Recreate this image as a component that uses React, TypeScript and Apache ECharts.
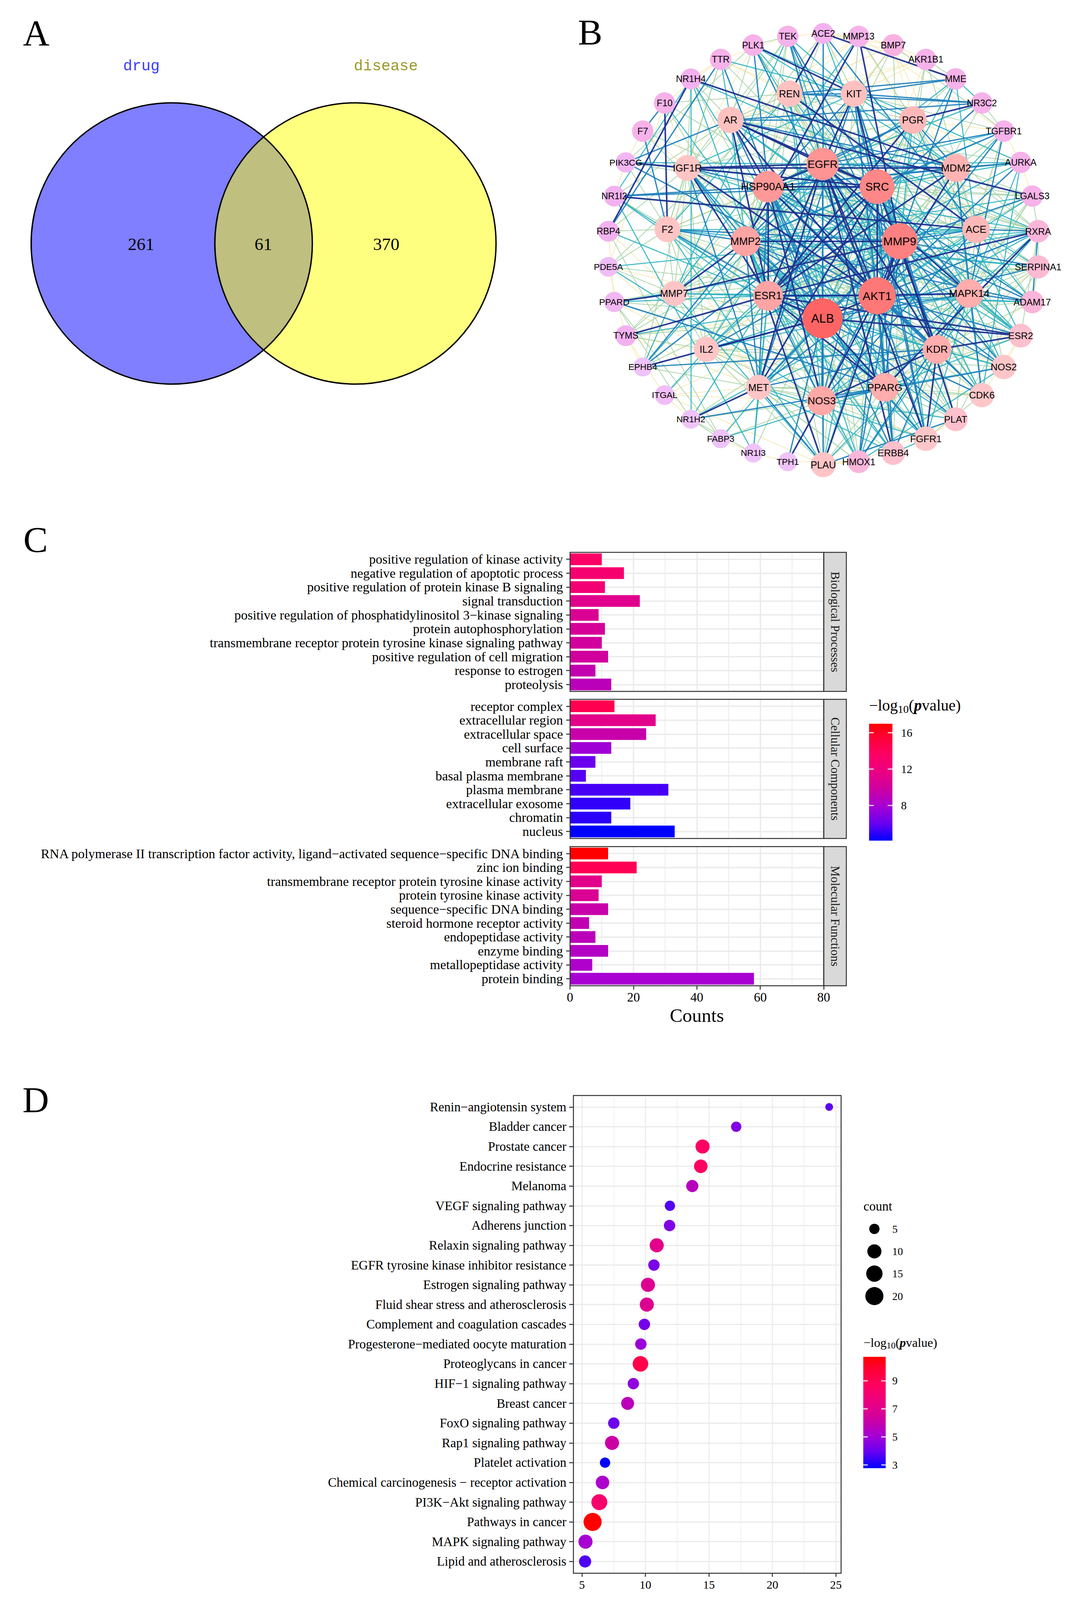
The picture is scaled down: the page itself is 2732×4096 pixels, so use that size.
import React, { useEffect, useRef } from 'react';
import * as echarts from 'echarts';

const W = 2732;
const H = 4096;
const SERIF = "'Liberation Serif', 'Times New Roman', Times, serif";
const SANS = "'Liberation Sans', Arial, Helvetica, sans-serif";
const MONO = "'Liberation Mono', 'Courier New', monospace";

// ---------------- Panel A : Venn ----------------
const VENN_SETS = ['drug', 'disease'];
const VENN_COUNTS = [261, 61, 370]; // drug only, shared, disease only

// ---------------- Panel B : PPI network ----------------
const INNER_NODES = ['EGFR', 'SRC', 'MMP9', 'AKT1', 'ALB', 'ESR1', 'MMP2', 'HSP90AA1'];
const INNER_DEGREE = [35, 39, 41, 43, 48, 31, 31, 34];
const MIDDLE_NODES = ['REN', 'KIT', 'PGR', 'MDM2', 'ACE', 'MAPK14', 'KDR', 'PPARG', 'NOS3', 'MET', 'IL2', 'MMP7', 'F2', 'IGF1R', 'AR'];
const MIDDLE_DEGREE = [25, 25, 27, 28, 27, 29, 29, 29, 30, 23, 23, 23, 24, 24, 25];
const OUTER_NODES = ['ACE2', 'MMP13', 'BMP7', 'AKR1B1', 'MME', 'NR3C2', 'TGFBR1', 'AURKA', 'LGALS3', 'RXRA', 'SERPINA1', 'ADAM17', 'ESR2', 'NOS2', 'CDK6', 'PLAT', 'FGFR1', 'ERBB4', 'HMOX1', 'PLAU', 'TPH1', 'NR1I3', 'FABP3', 'NR1H2', 'ITGAL', 'EPHB4', 'TYMS', 'PPARD', 'PDE5A', 'RBP4', 'NR1I2', 'PIK3CG', 'F7', 'F10', 'NR1H4', 'TTR', 'PLK1', 'TEK'];
const OUTER_DEGREE = [16, 17, 18, 17, 17, 17, 17, 17, 17, 19, 20, 19, 21, 22, 22, 21, 22, 21, 19, 23, 13, 13, 13, 13, 14, 13, 16, 15, 14, 16, 16, 15, 17, 17, 16, 17, 17, 17];
// adjacency: "SOURCE: TARGET weight TARGET weight ..." (weight 1 = weak .. 5 = strong)
const EDGE_LISTS = [
  'ALB: AKT1 5 EGFR 4 SRC 3 MMP9 4 ESR1 5 MMP2 3 HSP90AA1 4 PPARG 5 NOS3 4 IL2 5 MET 3 KDR 3 MAPK14 4 ACE 2 MDM2 2 PGR 2 REN 3 AR 4 F2 4 IGF1R 3 MMP7 2 PLAU 3 HMOX1 2 ERBB4 1 FGFR1 2 PLAT 2 CDK6 1 NOS2 3 ESR2 5 ADAM17 2 SERPINA1 4 RXRA 3 LGALS3 2 TTR 4 RBP4 3 EPHB4 5 TYMS 2 PPARD 2 FABP3 3 NR1I2 2 F7 2 F10 3 ACE2 4 MME 3 AKR1B1 1 TPH1 4 NR1H4 2 PDE5A 1',
  'AKT1: EGFR 5 SRC 5 MMP9 5 ESR1 5 MMP2 4 HSP90AA1 5 MAPK14 5 KDR 4 PPARG 4 NOS3 5 MET 4 IL2 3 MDM2 5 ACE 3 PGR 3 AR 5 IGF1R 5 KIT 4 REN 2 F2 2 MMP7 3 PLAU 3 HMOX1 4 ERBB4 4 FGFR1 4 CDK6 4 NOS2 4 ESR2 4 PLAT 2 RXRA 4 AURKA 4 TGFBR1 4 LGALS3 3 PIK3CG 4 PLK1 4 TEK 3 NR1H2 2 PDE5A 2 ITGAL 1 ADAM17 3 SERPINA1 2 TYMS 3 NR3C2 2',
  'EGFR: SRC 5 MMP9 4 ESR1 5 MMP2 4 HSP90AA1 5 MAPK14 5 KDR 5 PPARG 3 NOS3 3 MET 5 IL2 3 MDM2 4 ACE 2 PGR 4 AR 5 IGF1R 5 KIT 5 REN 1 F2 2 MMP7 3 PLAU 4 HMOX1 2 ERBB4 5 FGFR1 5 CDK6 3 NOS2 2 ESR2 3 PLAT 3 ADAM17 4 TGFBR1 4 AURKA 3 PIK3CG 3 LGALS3 2 SERPINA1 2 EPHB4 3 TEK 4 PLK1 3 RXRA 2 NR3C2 2',
  'SRC: MMP9 4 ESR1 5 MMP2 3 HSP90AA1 5 MAPK14 4 KDR 5 PPARG 3 NOS3 4 MET 5 IL2 3 MDM2 3 AR 5 IGF1R 5 KIT 5 PGR 3 F2 2 MMP7 2 PLAU 3 HMOX1 2 ERBB4 4 FGFR1 4 CDK6 3 NOS2 3 ESR2 3 PLAT 2 ADAM17 3 PIK3CG 4 EPHB4 4 TEK 4 LGALS3 2 AURKA 3 TGFBR1 3 PLK1 3 RXRA 2 ITGAL 2 NR1I2 4 NR1I3 2 TYMS 2',
  'MMP9: ESR1 3 MMP2 5 HSP90AA1 3 MAPK14 4 KDR 4 PPARG 4 NOS3 4 MET 4 IL2 4 MDM2 2 ACE 4 PGR 2 AR 3 IGF1R 3 KIT 3 REN 3 F2 4 MMP7 5 PLAU 5 HMOX1 4 ERBB4 2 FGFR1 3 NOS2 4 ESR2 2 PLAT 5 ADAM17 4 SERPINA1 4 RXRA 3 LGALS3 4 TGFBR1 3 MMP13 5 BMP7 2 ACE2 3 MME 4 AKR1B1 2 CDK6 2 F10 2 F7 2 TTR 2 TYMS 1 PPARD 2 EPHB4 2',
  'ESR1: MMP2 3 HSP90AA1 5 MAPK14 4 KDR 3 PPARG 5 NOS3 4 MET 3 IL2 3 MDM2 5 ACE 2 PGR 5 AR 5 IGF1R 5 KIT 2 REN 2 F2 2 MMP7 3 PLAU 2 HMOX1 2 ERBB4 3 FGFR1 3 CDK6 4 NOS2 2 ESR2 5 RXRA 5 NR3C2 4 NR1H4 3 NR1I2 3 NR1I3 3 NR1H2 3 PPARD 3 SERPINA1 2 LGALS3 2 TYMS 5 AURKA 3 BMP7 2',
  'MMP2: HSP90AA1 3 MAPK14 2 KDR 4 PPARG 3 NOS3 3 MET 4 IL2 2 MDM2 2 ACE 3 PGR 2 AR 3 IGF1R 4 KIT 2 REN 2 F2 4 MMP7 5 PLAU 5 HMOX1 3 ERBB4 2 FGFR1 4 NOS2 2 ESR2 2 PLAT 4 ADAM17 4 SERPINA1 3 TGFBR1 4 MMP13 5 BMP7 2 ACE2 2 MME 3 LGALS3 3 TEK 2 F10 2 EPHB4 4',
  'HSP90AA1: MAPK14 4 KDR 4 PPARG 3 NOS3 5 MET 4 IL2 2 MDM2 4 ACE 2 PGR 4 AR 5 IGF1R 4 KIT 4 REN 1 F2 2 MMP7 1 PLAU 2 HMOX1 3 ERBB4 4 FGFR1 3 CDK6 4 NOS2 4 ESR2 3 PLAT 2 RXRA 3 AURKA 4 PLK1 4 TGFBR1 3 PIK3CG 2 NR3C2 3 NR1I2 4 TEK 2 LGALS3 2 TYMS 2',
  'REN: KIT 4 MME 4 NR3C2 4 ACE 5 ACE2 5 AR 2 PGR 2 MDM2 1 F2 3 NOS3 3 PLAT 2 SERPINA1 2 AKR1B1 1 BMP7 1 MMP13 1 TTR 1 PDE5A 2 F10 2 MAPK14 2 KDR 2',
  'KIT: NR3C2 4 MME 4 PLK1 5 TEK 3 PGR 3 AR 2 MDM2 3 KDR 4 MET 4 IGF1R 3 FGFR1 4 ERBB4 3 MAPK14 3 PPARG 2 IL2 2 ACE2 2 TGFBR1 2 BMP7 1 AKR1B1 1 TTR 3',
  'PGR: AR 4 NR3C2 5 MDM2 4 ESR2 3 PPARG 3 RXRA 2 MMP13 1 BMP7 1 AKR1B1 2 ACE 2 MAPK14 2 NOS3 2 TGFBR1 1 AURKA 1 MME 2 IGF1R 2 F2 1',
  'MDM2: ACE 2 MAPK14 3 AURKA 4 PLK1 3 CDK6 4 PPARG 2 IGF1R 5 AR 4 KIT 2 NR1H4 5 LGALS3 2 RXRA 2 TGFBR1 2 KDR 2 MET 2 IL2 1 TTR 1',
  'ACE: ACE2 4 NOS3 4 MME 3 NR1I2 5 RXRA 4 MAPK14 2 KDR 2 PPARG 2 F2 3 SERPINA1 3 ADAM17 3 NOS2 2 PLAT 2 LGALS3 1 AKR1B1 2 BMP7 1 TGFBR1 1 MMP13 1 PDE5A 3',
  'MAPK14: KDR 3 PPARG 3 NOS3 3 MET 3 IL2 3 ESR2 3 NOS2 3 HMOX1 4 CDK6 3 ADAM17 4 SERPINA1 2 RXRA 3 LGALS3 2 AURKA 3 TGFBR1 4 PLAT 2 FGFR1 3 ERBB4 2 TYMS 1',
  'KDR: PPARG 2 NOS3 5 MET 4 IL2 2 FGFR1 5 ERBB4 4 TEK 4 PLAU 3 PLAT 2 HMOX1 3 NOS2 3 CDK6 2 ESR2 5 ADAM17 2 EPHB4 4 RXRA 3 TGFBR1 2 LGALS3 2 SERPINA1 1',
  'PPARG: NOS3 4 NOS2 3 RXRA 5 ESR2 3 HMOX1 3 FGFR1 2 ERBB4 2 PLAT 2 PLAU 2 CDK6 2 NR1H2 4 NR1H4 3 NR1I2 3 PPARD 4 FABP3 3 IL2 2 MET 2 TYMS 1 ADAM17 1 LGALS3 2',
  'NOS3: NOS2 4 HMOX1 3 PLAU 2 PLAT 3 ERBB4 2 FGFR1 2 MET 2 IL2 2 TPH1 5 NR1H2 2 FABP3 2 ITGAL 1 CDK6 1 ESR2 2 ACE2 2 PDE5A 3 F2 2 SERPINA1 2',
  'MET: IL2 2 NR1H2 5 NR1I3 3 FABP3 1 ERBB4 3 FGFR1 3 PLAU 4 HMOX1 2 ITGAL 1 EPHB4 2 TYMS 1 PLAT 2 CDK6 2 IGF1R 4 F2 1',
  'IL2: ITGAL 3 EPHB4 2 TYMS 2 PPARD 1 PDE5A 1 MMP7 2 F2 2 IGF1R 2 HMOX1 2 PLAU 2 NOS2 2 CDK6 1 FGFR1 1 ESR2 1',
  'MMP7: PPARD 5 PDE5A 2 TYMS 2 F2 2 IGF1R 2 PLAU 3 MMP13 3 ADAM17 3 SERPINA1 2 PLAT 2 EPHB4 1 RBP4 1',
  'F2: F10 5 F7 4 RBP4 2 PLAU 3 PLAT 3 SERPINA1 3 PIK3CG 2 TTR 2 PDE5A 2 IGF1R 2 AR 1 ACE2 2 NOS2 1',
  'IGF1R: PIK3CG 5 NR1H4 2 TTR 2 F7 1 F10 1 AR 2 ERBB4 3 FGFR1 3 RBP4 2 EPHB4 2 TEK 2 PLK1 1 CDK6 2',
  'AR: NR3C2 4 TTR 3 PLK1 2 TEK 2 NR1H4 2 NR1I2 2 RXRA 2 ESR2 3 AURKA 2 PIK3CG 4 BMP7 1 MMP13 1 AKR1B1 1 LGALS3 5',
  'ACE2: MME 5 TEK 1 BMP7 1 MMP13 1 AKR1B1 1',
  'MMP13: BMP7 1 ADAM17 2 TGFBR1 1 PLAU 2',
  'BMP7: AKR1B1 1 TGFBR1 2',
  'MME: AKR1B1 2 NR3C2 3',
  'NR3C2: TGFBR1 2',
  'TGFBR1: AURKA 1',
  'AURKA: PLK1 3 CDK6 3 LGALS3 1',
  'LGALS3: RXRA 2',
  'RXRA: SERPINA1 2 ADAM17 4 NR1H2 3 NR1I2 2 PPARD 3 NR1H4 3 ESR2 2',
  'SERPINA1: ADAM17 2 PLAT 2 PLAU 2',
  'ESR2: NOS2 1 CDK6 1',
  'NOS2: HMOX1 3',
  'CDK6: PLK1 2 FGFR1 2',
  'PLAT: PLAU 4 HMOX1 1 FGFR1 1',
  'FGFR1: ERBB4 3',
  'ERBB4: TEK 2',
  'HMOX1: PLAU 1 TPH1 1',
  'PLAU: ITGAL 1',
  'TPH1: NR1I3 1',
  'NR1I3: NR1I2 3 NR1H2 2 FABP3 1',
  'FABP3: NR1H2 2 PPARD 2 RBP4 2',
  'NR1H2: NR1H4 3 PPARD 2 ITGAL 1',
  'ITGAL: TYMS 1',
  'EPHB4: TYMS 1 TEK 3',
  'TYMS: PDE5A 1',
  'PPARD: RBP4 1',
  'PDE5A: F10 1',
  'RBP4: TTR 4 NR1H4 5',
  'NR1I2: NR1H4 3 PIK3CG 1',
  'PIK3CG: F7 1 PLK1 2',
  'F7: F10 4',
  'F10: TTR 1',
  'NR1H4: TTR 1',
  'TTR: TEK 1',
  'PLK1: TEK 2',
];

// ---------------- Panel C : GO bars ----------------
const GO_FACETS = ['Biological Processes', 'Cellular Components', 'Molecular Functions'];
const BP_TERMS = ['positive regulation of kinase activity', 'negative regulation of apoptotic process', 'positive regulation of protein kinase B signaling', 'signal transduction', 'positive regulation of phosphatidylinositol 3−kinase signaling', 'protein autophosphorylation', 'transmembrane receptor protein tyrosine kinase signaling pathway', 'positive regulation of cell migration', 'response to estrogen', 'proteolysis'];
const BP_COUNTS = [10, 17, 11, 22, 9, 11, 10, 12, 8, 13];
const BP_LOGP = [13.5, 12.9, 12.6, 11.0, 10.6, 10.3, 10.0, 9.9, 9.3, 8.9];
const CC_TERMS = ['receptor complex', 'extracellular region', 'extracellular space', 'cell surface', 'membrane raft', 'basal plasma membrane', 'plasma membrane', 'extracellular exosome', 'chromatin', 'nucleus'];
const CC_COUNTS = [14, 27, 24, 13, 8, 5, 31, 19, 13, 33];
const CC_LOGP = [14.4, 11.2, 9.5, 7.7, 6.1, 5.7, 5.4, 5.0, 4.9, 4.13];
const MF_TERMS = ['RNA polymerase II transcription factor activity, ligand−activated sequence−specific DNA binding', 'zinc ion binding', 'transmembrane receptor protein tyrosine kinase activity', 'protein tyrosine kinase activity', 'sequence−specific DNA binding', 'steroid hormone receptor activity', 'endopeptidase activity', 'enzyme binding', 'metallopeptidase activity', 'protein binding'];
const MF_COUNTS = [12, 21, 10, 9, 12, 6, 8, 12, 7, 58];
const MF_LOGP = [16.99, 14.2, 11.2, 10.6, 9.5, 9.2, 8.9, 8.5, 8.3, 8.0];
const GO_COLOR_BREAKS = [8, 12, 16];

// ---------------- Panel D : KEGG bubbles ----------------
const KEGG_TERMS = ['Renin−angiotensin system', 'Bladder cancer', 'Prostate cancer', 'Endocrine resistance', 'Melanoma', 'VEGF signaling pathway', 'Adherens junction', 'Relaxin signaling pathway', 'EGFR tyrosine kinase inhibitor resistance', 'Estrogen signaling pathway', 'Fluid shear stress and atherosclerosis', 'Complement and coagulation cascades', 'Progesterone−mediated oocyte maturation', 'Proteoglycans in cancer', 'HIF−1 signaling pathway', 'Breast cancer', 'FoxO signaling pathway', 'Rap1 signaling pathway', 'Platelet activation', 'Chemical carcinogenesis − receptor activation', 'PI3K−Akt signaling pathway', 'Pathways in cancer', 'MAPK signaling pathway', 'Lipid and atherosclerosis'];
const KEGG_X = [24.47, 17.15, 14.5, 14.36, 13.69, 11.93, 11.9, 10.89, 10.67, 10.2, 10.11, 9.92, 9.64, 9.61, 9.05, 8.6, 7.51, 7.37, 6.82, 6.62, 6.37, 5.84, 5.28, 5.25];
const KEGG_COUNT = [4, 5, 10, 9, 7, 5, 6, 10, 6, 10, 10, 6, 6, 13, 6, 8, 6, 10, 5, 9, 14, 20, 10, 7];
const KEGG_LOGP = [3.8, 4.4, 8.6, 8.65, 5.6, 3.7, 4.4, 7.1, 4.3, 6.9, 6.9, 4.2, 4.9, 9.3, 4.7, 5.7, 4.0, 6.2, 2.77, 5.3, 8.3, 10.71, 5.15, 3.65];
const KEGG_X_TICKS = [5, 10, 15, 20, 25];
const KEGG_X_MINOR = [7.5, 12.5, 17.5, 22.5];
const KEGG_SIZE_BREAKS = [5, 10, 15, 20];
const KEGG_COLOR_BREAKS = [3, 5, 7, 9];

// ---------------- helpers ----------------
type Stop = [number, number[]];
const FILL_STOPS: Stop[] = [
  [0, [0, 0, 255]], [0.15, [106, 0, 240]], [0.3, [168, 0, 210]], [0.45, [208, 0, 158]],
  [0.6, [236, 0, 128]], [0.75, [255, 0, 96]], [0.9, [255, 0, 48]], [1, [255, 0, 0]],
];
const NODE_STOPS: Stop[] = [
  [13, [239, 195, 249]], [16, [243, 177, 239]], [18, [248, 178, 226]], [20, [252, 186, 210]],
  [22, [254, 198, 200]], [24, [255, 196, 196]], [27, [255, 184, 184]], [30, [255, 168, 168]],
  [35, [255, 148, 148]], [41, [255, 128, 128]], [48, [255, 100, 100]],
];
const EDGE_COLORS = ['#f5e3a0', '#a9d3a6', '#2fb4c2', '#1d80bd', '#1c3390'];
const EDGE_WIDTHS = [1.5, 2.0, 2.6, 3.2, 4.0];

function interp(stops: Stop[], v: number): string {
  if (v <= stops[0][0]) return rgb(stops[0][1]);
  for (let i = 1; i < stops.length; i++) {
    if (v <= stops[i][0]) {
      const [a, ca] = stops[i - 1];
      const [b, cb] = stops[i];
      const t = (v - a) / (b - a);
      return rgb(ca.map((c, k) => c + (cb[k] - c) * t));
    }
  }
  return rgb(stops[stops.length - 1][1]);
}
function rgb(c: number[]): string {
  return `rgb(${c.map((x) => Math.round(x)).join(',')})`;
}
function gradientFill(lo: number, hi: number) {
  const stops = FILL_STOPS.map(([t, c]) => ({ offset: 1 - t, color: rgb(c) })).reverse();
  return new echarts.graphic.LinearGradient(0, 0, 0, 1, stops);
}

let measureCtx: CanvasRenderingContext2D | null = null;
function measure(text: string, font: string): number {
  if (!measureCtx) measureCtx = document.createElement('canvas').getContext('2d');
  measureCtx!.font = font;
  return measureCtx!.measureText(text).width;
}
const K_MID = 0.34; // central baseline offset of Liberation Serif

function baseText(text: string, x: number, baseline: number, fs: number, extra: any = {}) {
  return {
    type: 'text', x, y: baseline - K_MID * fs, z: 20,
    style: { text, fontSize: fs, fontFamily: SERIF, fill: '#000', align: 'left', verticalAlign: 'middle', ...extra },
  };
}

function logTitle(x: number, baseline: number, fs: number, sub: number, drop: number) {
  const parts = [
    { t: '−log', fs, w: 'normal', s: 'normal', dy: 0 },
    { t: '10', fs: sub, w: 'normal', s: 'normal', dy: drop },
    { t: '(', fs, w: 'normal', s: 'normal', dy: 0 },
    { t: 'p', fs, w: 'bold', s: 'italic', dy: 0 },
    { t: 'value)', fs, w: 'normal', s: 'normal', dy: 0 },
  ];
  let cx = x;
  const els: any[] = [];
  parts.forEach((p) => {
    els.push(baseText(p.t, cx, baseline + p.dy, p.fs, { fontWeight: p.w, fontStyle: p.s }));
    cx += measure(p.t, `${p.s} ${p.w} ${p.fs}px ${SERIF}`);
  });
  return els;
}

function colorBar(x: number, top: number, w: number, h: number, lo: number, hi: number, breaks: number[], labelX: number, fs: number) {
  const els: any[] = [];
  els.push({ type: 'rect', z: 20, shape: { x, y: top, width: w, height: h }, style: { fill: gradientFill(lo, hi) } });
  const tl = w * 0.2;
  breaks.forEach((b) => {
    const y = top + h - ((b - lo) / (hi - lo)) * h;
    els.push({ type: 'line', z: 21, shape: { x1: x, y1: y, x2: x + tl, y2: y }, style: { stroke: '#fff', lineWidth: 2.5 } });
    els.push({ type: 'line', z: 21, shape: { x1: x + w - tl, y1: y, x2: x + w, y2: y }, style: { stroke: '#fff', lineWidth: 2.5 } });
    els.push({
      type: 'text', z: 20, x: labelX, y,
      style: { text: String(b), fontSize: fs, fontFamily: SERIF, fill: '#000', align: 'left', verticalAlign: 'middle' },
    });
  });
  return els;
}

function buildOption() {
  const graphic: any[] = [];

  // panel letters
  [['A', 92.6, 84], ['B', 1511, 82], ['C', 91, 1381], ['D', 91.4, 2815]].forEach(([t, x, y]) => {
    graphic.push({
      type: 'text', x, y, z: 20,
      style: { text: t, fontSize: 94, fontFamily: SERIF, fill: '#000', align: 'center', verticalAlign: 'middle' },
    });
  });

  // ---- Panel A: Venn ----
  const vennY = 623.3;
  const vennR = 360;
  const vennX = [439.7, 910.1];
  graphic.push({ type: 'circle', z: 5, shape: { cx: vennX[0], cy: vennY, r: vennR }, style: { fill: 'rgba(0,0,255,0.5)' } });
  graphic.push({ type: 'circle', z: 6, shape: { cx: vennX[1], cy: vennY, r: vennR }, style: { fill: 'rgba(255,255,0,0.5)' } });
  vennX.forEach((cx) => {
    graphic.push({ type: 'circle', z: 7, shape: { cx, cy: vennY, r: vennR }, style: { fill: 'none', stroke: '#000', lineWidth: 3.5 } });
  });
  const setColors = ['#3c3cff', '#9a9a26'];
  const setLabelX = [362, 988];
  VENN_SETS.forEach((s, i) => {
    graphic.push({
      type: 'text', x: setLabelX[i], y: 170, z: 20,
      style: { text: s, fontSize: 39, fontFamily: MONO, fill: setColors[i], align: 'center', verticalAlign: 'middle' },
    });
  });
  const countX = [361.3, 674.3, 989];
  VENN_COUNTS.forEach((c, i) => {
    graphic.push({
      type: 'text', x: countX[i], y: 625, z: 20,
      style: { text: String(c), fontSize: 45, fontFamily: SERIF, fill: '#000', align: 'center', verticalAlign: 'middle' },
    });
  });

  // ---- Panel B: network ----
  const ring = (names: string[], degs: number[], cx: number, cy: number, r: number, start: number) => {
    const step = 360 / names.length;
    return names.map((n, i) => {
      const a = ((start + i * step) * Math.PI) / 180;
      return { name: n, deg: degs[i], x: cx + r * Math.cos(a), y: cy + r * Math.sin(a) };
    });
  };
  const nodes = [
    ...ring(OUTER_NODES, OUTER_DEGREE, 2107.9, 637.6, 552, -90),
    ...ring(MIDDLE_NODES, MIDDLE_DEGREE, 2103.9, 628.6, 397.3, -102),
    ...ring(INNER_NODES, INNER_DEGREE, 2106.3, 617.5, 197.5, -90),
  ];
  const nodeSet = new Set(nodes.map((n) => n.name));
  const seen = new Set<string>();
  const links: { source: string; target: string; w: number }[] = [];
  EDGE_LISTS.forEach((line) => {
    const [srcRaw, rest] = line.split(':');
    const src = srcRaw.trim();
    const toks = rest.trim().split(/\s+/);
    for (let k = 0; k + 1 < toks.length; k += 2) {
      const tgt = toks[k];
      const w = Number(toks[k + 1]);
      if (tgt === src || !nodeSet.has(tgt) || !nodeSet.has(src)) continue;
      const key = [src, tgt].sort().join('|');
      if (seen.has(key)) continue;
      seen.add(key);
      links.push({ source: src, target: tgt, w });
    }
  });
  links.sort((a, b) => a.w - b.w);
  const xs = nodes.map((n) => n.x);
  const ys = nodes.map((n) => n.y);
  const bx = Math.min(...xs);
  const by = Math.min(...ys);
  const bw = Math.max(...xs) - bx;
  const bh = Math.max(...ys) - by;
  const nodeSize = (d: number) => 44 + (d - 10) * 1.55;
  const nodeFont = (d: number) => 22.5 + (d - 13) * 0.24;

  // ---- Panel C ----
  const goTerms = [BP_TERMS, CC_TERMS, MF_TERMS];
  const goCounts = [BP_COUNTS, CC_COUNTS, MF_COUNTS];
  const goLogp = [BP_LOGP, CC_LOGP, MF_LOGP];
  const allGo = ([] as number[]).concat(BP_LOGP, CC_LOGP, MF_LOGP);
  const goLo = Math.min(...allGo);
  const goHi = Math.max(...allGo);
  const goColor = (v: number) => interp(FILL_STOPS, (v - goLo) / (goHi - goLo));
  const cLeft = 1459.6;
  const cRight = 2109.1;
  const stripRight = 2167;
  const cTops = [1413.9, 1790.2, 2167.2];
  const cBottoms = [1770.1, 2146.4, 2523.4];

  cTops.forEach((t, i) => {
    const h = cBottoms[i] - t;
    graphic.push({ type: 'rect', z: 30, shape: { x: cLeft, y: t, width: cRight - cLeft, height: h }, style: { fill: 'none', stroke: '#333', lineWidth: 2.5 } });
    graphic.push({ type: 'rect', z: 29, shape: { x: cRight, y: t, width: stripRight - cRight, height: h }, style: { fill: '#d9d9d9', stroke: '#333', lineWidth: 2.5 } });
    graphic.push({
      type: 'text', z: 31, x: (cRight + stripRight) / 2, y: t + h / 2, rotation: -Math.PI / 2,
      style: { text: GO_FACETS[i], fontSize: 31, fontFamily: SERIF, fill: '#1a1a1a', align: 'center', verticalAlign: 'middle' },
    });
  });
  graphic.push(...logTitle(2225.2, 1819.3, 40, 28, 6));
  graphic.push(...colorBar(2225.2, 1852.7, 59.8, 299.4, goLo, goHi, GO_COLOR_BREAKS, 2306.9, 29));

  // ---- Panel D ----
  const kLo = Math.min(...KEGG_LOGP);
  const kHi = Math.max(...KEGG_LOGP);
  const kColor = (v: number) => interp(FILL_STOPS, (v - kLo) / (kHi - kLo));
  const cMin = Math.min(...KEGG_COUNT);
  const cMax = Math.max(...KEGG_COUNT);
  const kSize = (c: number) => 19.9 + 26.4 * Math.sqrt(Math.max(0, c - cMin) / (cMax - cMin));
  const dLeft = 1468.2;
  const dRight = 2153.6;
  const dTop = 2804.6;
  const dBottom = 4027.6;
  const dGridTop = 2808.6;
  const dGridBottom = 4022.6;
  graphic.push({ type: 'rect', z: 30, shape: { x: dLeft, y: dTop, width: dRight - dLeft, height: dBottom - dTop }, style: { fill: 'none', stroke: '#333', lineWidth: 2.5 } });
  graphic.push(baseText('count', 2211, 3099, 33));
  const sizeY = [3146, 3203.5, 3260.5, 3318];
  KEGG_SIZE_BREAKS.forEach((c, i) => {
    graphic.push({ type: 'circle', z: 20, shape: { cx: 2238.8, cy: sizeY[i], r: kSize(c) / 2 }, style: { fill: '#000' } });
    graphic.push({
      type: 'text', z: 20, x: 2284.6, y: sizeY[i],
      style: { text: String(c), fontSize: 27.5, fontFamily: SERIF, fill: '#000', align: 'left', verticalAlign: 'middle' },
    });
  });
  graphic.push(...logTitle(2211, 3447.7, 32, 23, 5));
  graphic.push(...colorBar(2210.4, 3473.6, 57.4, 284.9, kLo, kHi, KEGG_COLOR_BREAKS, 2284.6, 27.5));

  const grids: any[] = cTops.map((t, i) => ({
    left: cLeft, top: t, width: cRight - cLeft, height: cBottoms[i] - t, containLabel: false, outerBoundsMode: 'none',
  }));
  grids.push({ left: dLeft, top: dGridTop, width: dRight - dLeft, height: dGridBottom - dGridTop, containLabel: false, outerBoundsMode: 'none' });

  const gridLine = '#ebebeb';
  const xAxes: any[] = [0, 1, 2].map((i) => ({
    type: 'value', gridIndex: i, min: 0, max: 80, interval: 20,
    axisLine: { show: false },
    axisTick: { show: i === 2, length: 10, lineStyle: { color: '#333', width: 2.5 } },
    axisLabel: { show: i === 2, fontSize: 33, fontFamily: SERIF, color: '#000', margin: 13 },
    splitLine: { show: true, lineStyle: { color: gridLine, width: 3.5 } },
    minorTick: { show: false, splitNumber: 2 },
    minorSplitLine: { show: true, lineStyle: { color: gridLine, width: 2 } },
    name: i === 2 ? 'Counts' : '',
    nameLocation: 'middle', nameGap: 52,
    nameTextStyle: { fontSize: 49, fontFamily: SERIF, color: '#000' },
  }));
  xAxes.push({
    type: 'value', gridIndex: 3, min: 4.33, max: 25.41, offset: 5,
    axisLine: { show: false },
    axisTick: { show: true, length: 9, lineStyle: { color: '#333', width: 2.5 }, customValues: KEGG_X_TICKS },
    axisLabel: { fontSize: 30, fontFamily: SERIF, color: '#000', margin: 14, customValues: KEGG_X_TICKS },
    splitLine: { show: false },
  });
  const yAxes: any[] = [0, 1, 2].map((i) => ({
    type: 'category', gridIndex: i, data: goTerms[i], inverse: true,
    axisLine: { show: false },
    axisTick: { show: true, alignWithLabel: true, length: 10, lineStyle: { color: '#333', width: 2.5 } },
    axisLabel: { interval: 0, fontSize: 34, fontFamily: SERIF, color: '#000', margin: 18 },
    splitLine: { show: false },
  }));
  yAxes.push({
    type: 'category', gridIndex: 3, data: KEGG_TERMS, inverse: true,
    axisLine: { show: false },
    axisTick: { show: true, alignWithLabel: true, length: 11, lineStyle: { color: '#333', width: 2.5 } },
    axisLabel: { interval: 0, fontSize: 33, fontFamily: SERIF, color: '#000', margin: 18 },
    splitLine: { show: false },
  });

  const series: any[] = [];
  [0, 1, 2].forEach((i) => {
    series.push({
      type: 'bar', xAxisIndex: i, yAxisIndex: i, barWidth: 30, z: 3, silent: true,
      data: goCounts[i].map((c, j) => ({ value: c, itemStyle: { color: goColor(goLogp[i][j]) } })),
      markLine: {
        silent: true, symbol: ['none', 'none'], z: 1, animation: false,
        label: { show: false },
        lineStyle: { color: gridLine, width: 3.5, type: 'solid' },
        emphasis: { disabled: true },
        data: goTerms[i].map((_, j) => ({ yAxis: j })),
      },
    });
  });
  const dLines: any[] = KEGG_TERMS.map((_, j) => ({ yAxis: j, lineStyle: { color: gridLine, width: 3.2, type: 'solid' } }));
  KEGG_X_TICKS.forEach((v) => dLines.push({ xAxis: v, lineStyle: { color: gridLine, width: 2.6, type: 'solid' } }));
  KEGG_X_MINOR.forEach((v) => dLines.push({ xAxis: v, lineStyle: { color: gridLine, width: 1.5, type: 'solid' } }));
  series.push({
    type: 'scatter', xAxisIndex: 3, yAxisIndex: 3, z: 3, silent: true,
    data: KEGG_TERMS.map((_, i) => [KEGG_X[i], i, KEGG_COUNT[i], KEGG_LOGP[i]]),
    symbolSize: (v: number[]) => kSize(v[2]),
    itemStyle: { color: (p: any) => kColor(p.value[3]), opacity: 1 },
    markLine: {
      silent: true, symbol: ['none', 'none'], z: 1, animation: false,
      label: { show: false }, emphasis: { disabled: true },
      data: dLines,
    },
  });
  series.push({
    type: 'graph', layout: 'none', left: bx, top: by, width: bw, height: bh,
    roam: false, draggable: false, silent: true, z: 2,
    data: nodes.map((n) => ({
      name: n.name, x: n.x, y: n.y,
      symbolSize: nodeSize(n.deg),
      itemStyle: { color: interp(NODE_STOPS, n.deg) },
      label: { show: true, fontSize: nodeFont(n.deg) },
    })),
    links: links.map((l) => ({
      source: l.source, target: l.target,
      lineStyle: { color: EDGE_COLORS[l.w - 1], width: EDGE_WIDTHS[l.w - 1], opacity: 0.95, curveness: 0 },
    })),
    label: { show: true, position: 'inside', color: '#000', fontFamily: SANS },
    itemStyle: { borderWidth: 0 },
    emphasis: { disabled: true },
  });

  return {
    animation: false,
    backgroundColor: '#ffffff',
    grid: grids,
    xAxis: xAxes,
    yAxis: yAxes,
    series,
    graphic: { elements: graphic },
  };
}

export default function App() {
  const ref = useRef<HTMLDivElement>(null);
  useEffect(() => {
    document.body.style.margin = '0';
    const chart = echarts.init(ref.current as HTMLDivElement, null, { renderer: 'svg', width: W, height: H });
    chart.setOption(buildOption() as any);
    return () => chart.dispose();
  }, []);
  return <div ref={ref} style={{ position: 'absolute', left: 0, top: 0, width: W, height: H, background: '#fff' }} />;
}
